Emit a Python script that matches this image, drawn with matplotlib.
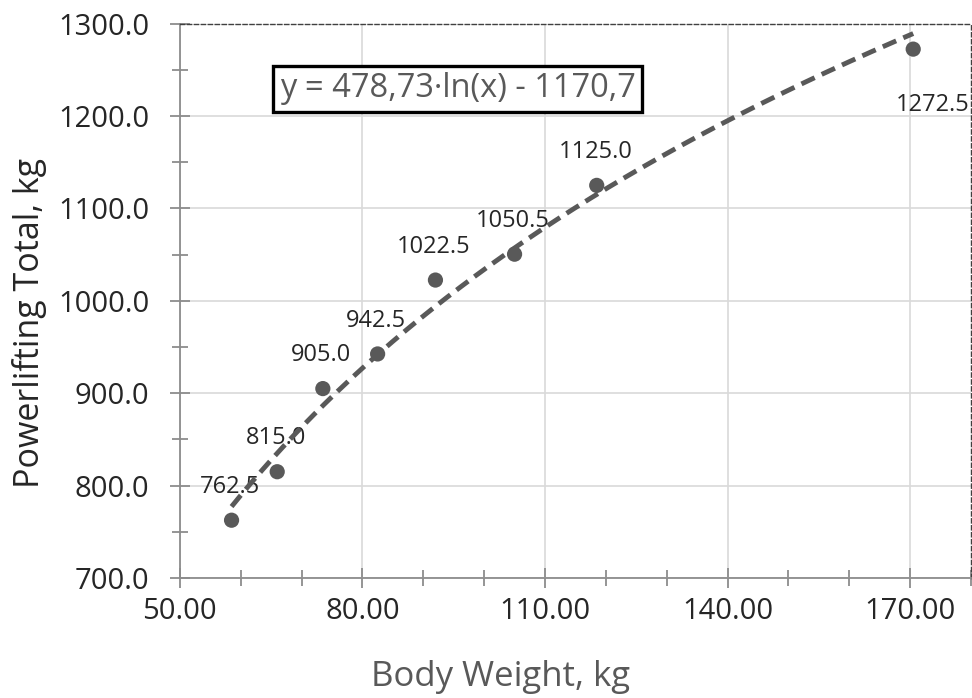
import numpy as np
import matplotlib
matplotlib.use("Agg")
import matplotlib.pyplot as plt
from matplotlib.ticker import MultipleLocator, FixedLocator, FormatStrFormatter

body_weight = [58.5, 66.0, 73.5, 82.5, 92.0, 105.0, 118.5, 170.5]
totals = [762.5, 815.0, 905.0, 942.5, 1022.5, 1050.5, 1125.0, 1272.5]
labels = ["762.5", "815.0", "905.0", "942.5", "1022.5", "1050.5", "1125.0", "1272.5"]
x_ticks = [50, 80, 110, 140, 170]
trend_a, trend_b = 478.73, -1170.7
equation = "y = 478,73·ln(x) - 1170,7"

plt.rcParams['font.family'] = ['Open Sans', 'DejaVu Sans']

fig = plt.figure(figsize=(9.72, 6.98), dpi=100)
ax = fig.add_axes([0.185, 0.172, 0.814, 0.794])

gray = '#595959'
ax.set_xlim(50, 180)
ax.set_ylim(700, 1300)

ax.xaxis.set_major_locator(FixedLocator(x_ticks))
ax.xaxis.set_minor_locator(MultipleLocator(10))
ax.yaxis.set_major_locator(MultipleLocator(100))
ax.yaxis.set_minor_locator(MultipleLocator(50))
ax.xaxis.set_major_formatter(FormatStrFormatter('%.2f'))
ax.yaxis.set_major_formatter(FormatStrFormatter('%.1f'))

ax.grid(True, which='major', color='#d9d9d9', linewidth=1.2)
ax.set_axisbelow(True)

for s in ['left', 'bottom']:
    ax.spines[s].set_color('#8c8c8c')
    ax.spines[s].set_linewidth(1.3)
for s in ['top', 'right']:
    ax.spines[s].set_color('#404040')
    ax.spines[s].set_linewidth(1.0)
    ax.spines[s].set_linestyle((0, (3, 2)))

ax.tick_params(which='major', direction='inout', length=14, width=1.3, color='#8c8c8c',
               labelsize=21, labelcolor='#262626')
ax.tick_params(which='minor', direction='inout', length=11, width=1.3, color='#8c8c8c')
ax.tick_params(axis='x', which='major', pad=7)
ax.tick_params(axis='y', which='major', pad=15)

xs = np.linspace(min(body_weight), max(body_weight), 200)
ax.plot(xs, trend_a * np.log(xs) + trend_b, linestyle=(0, (3, 1.6)), color=gray,
        linewidth=3.5, zorder=3)
ax.scatter(body_weight, totals, s=120, color=gray, zorder=4, edgecolors='none')

for i, (x, y, t) in enumerate(zip(body_weight, totals, labels)):
    if i == len(body_weight) - 1:
        ax.annotate(t, (x, y), xytext=(14, -40), textcoords='offset points',
                    ha='center', va='center', fontsize=17, color='#262626')
    else:
        ax.annotate(t, (x, y), xytext=(-1, 24), textcoords='offset points',
                    ha='center', va='center', fontsize=17, color='#262626', zorder=2)

ax.text(0.351, 0.883, equation, transform=ax.transAxes, ha='center', va='center',
        fontsize=23.5, color=gray,
        bbox=dict(boxstyle='square,pad=0.2', facecolor='white', edgecolor='black', linewidth=2.4))

ax.set_xlabel("Body Weight, kg", fontsize=25, color=gray)
ax.set_ylabel("Powerlifting Total, kg", fontsize=24.5, color='#262626')
ax.xaxis.set_label_coords(0.406, -0.148)
ax.yaxis.set_label_coords(-0.168, 0.46)

fig.savefig("out.png", dpi=100)
